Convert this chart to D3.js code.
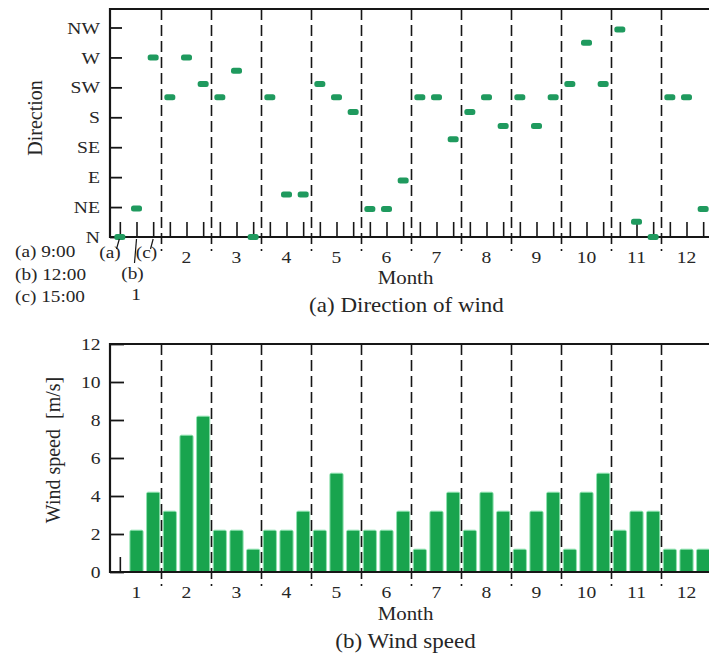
<!DOCTYPE html>
<html>
<head>
<meta charset="utf-8">
<script src="https://cdn.jsdelivr.net/npm/d3@7/dist/d3.min.js"></script>
<style>
body { margin: 0; background: #fff; }
text { font-family: "Liberation Serif", "Times New Roman", serif; fill: #262626; }
</style>
</head>
<body>
<svg id="chart" width="709" height="657"></svg>
<script>

var months = [1, 2, 3, 4, 5, 6, 7, 8, 9, 10, 11, 12];
var hourLabels = ["(a) 9:00", "(b) 12:00", "(c) 15:00"];
var directionNames = ["N", "NE", "E", "SE", "S", "SW", "W", "NW"];
var directionAngles = [0, 45, 90, 135, 180, 225, 270, 315];
var speedTicks = [0, 2, 4, 6, 8, 10, 12];

// three readings a month (9:00, 12:00, 15:00), direction in degrees
var windDirection = [
    0, 43, 270,
    210, 270, 230,
    210, 250, 0,
    210, 64, 64,
    230, 210, 188,
    42, 42, 85,
    210, 210, 147,
    188, 210, 167,
    210, 167, 210,
    230, 292, 230,
    312, 23, 0,
    210, 210, 42
];

// same slots, m/s
var windSpeed = [
    0, 2.2, 4.2,
    3.2, 7.2, 8.2,
    2.2, 2.2, 1.2,
    2.2, 2.2, 3.2,
    2.2, 5.2, 2.2,
    2.2, 2.2, 3.2,
    1.2, 3.2, 4.2,
    2.2, 4.2, 3.2,
    1.2, 3.2, 4.2,
    1.2, 4.2, 5.2,
    2.2, 3.2, 3.2,
    1.2, 1.2, 1.2
];

var svg = d3.select("#chart");
var ink = "#161616";
var markerColor = "#1f9a5e";
var barColor = "#18a44e";

var x = d3.scaleLinear().domain([0, 36]).range([111.5, 711.5]);
var left = 110, right = 712;

function slotCenter(i) { return x(i + 0.5); }

function addText(str, tx, ty, size, anchor, sx) {
    return svg.append("text")
        .attr("transform", "translate(" + tx + "," + ty + ") scale(" + (sx || 1) + ",1)")
        .attr("text-anchor", anchor || "middle")
        .style("font-size", size + "px")
        .text(str);
}

function hline(y, x1, x2, w) {
    svg.append("line").attr("x1", x1).attr("x2", x2).attr("y1", y).attr("y2", y)
        .attr("stroke", ink).attr("stroke-width", w);
}

function vline(xx, y1, y2, w) {
    svg.append("line").attr("x1", xx).attr("x2", xx).attr("y1", y1).attr("y2", y2)
        .attr("stroke", ink).attr("stroke-width", w);
}

function monthDividers(top, bottom) {
    svg.append("g").selectAll("line")
        .data(months.slice(0, 11))
        .enter().append("line")
        .attr("x1", function(m) { return x(m * 3); })
        .attr("x2", function(m) { return x(m * 3); })
        .attr("y1", top).attr("y2", bottom)
        .attr("stroke", ink).attr("stroke-width", 1.6)
        .attr("stroke-dasharray", "11,5");
}

function slotTicks(axisY) {
    var axis = d3.axisBottom(x)
        .tickValues(d3.range(36).map(function(i) { return i + 0.5; }))
        .tickSizeInner(-15).tickSizeOuter(0).tickFormat("");
    var g = svg.append("g").attr("transform", "translate(0," + axisY + ")").call(axis);
    g.select(".domain").remove();
    g.selectAll("line").attr("stroke", ink).attr("stroke-width", 1.6);
}

function styleLeftAxis(g) {
    g.select(".domain").remove();
    g.selectAll("line").attr("stroke", ink).attr("stroke-width", 1.8);
    g.selectAll("text").attr("fill", "#262626")
        .style("font-family", '"Liberation Serif", serif')
        .style("font-size", "17.5px");
}

// ---------- (a) direction of wind ----------
var topY = 9, baseY = 237;
var yDir = d3.scaleLinear().domain([0, 315]).range([baseY, 27.5]);

slotTicks(baseY);
monthDividers(topY, 251);

var dirAxis = d3.axisLeft(yDir)
    .tickValues(directionAngles)
    .tickFormat(function(d, i) { return directionNames[i]; })
    .tickSizeInner(-12).tickSizeOuter(0).tickPadding(10);
var dirG = svg.append("g").attr("transform", "translate(" + left + ",0)").call(dirAxis);
styleLeftAxis(dirG);
dirG.selectAll("text").attr("transform", "scale(1.12,1)").attr("x", -9);

hline(topY, left - 1, right, 2.2);
hline(baseY, left - 1, right, 2.2);
vline(left, topY - 1, baseY + 1, 2.2);

svg.append("g").selectAll("rect")
    .data(windDirection)
    .enter().append("rect")
    .attr("x", function(d, i) { return slotCenter(i) - 5.5; })
    .attr("y", function(d) { return yDir(d) - 3; })
    .attr("width", 11).attr("height", 6)
    .attr("rx", 2.5)
    .attr("fill", markerColor);

months.slice(1).forEach(function(m) {
    addText(m, x(m * 3 - 1.5), 263, 17.5, "middle", 1.12);
});

// legend and labels for month 1 slots
hourLabels.forEach(function(label, i) {
    addText(label, 15, 257 + i * 22.5, 17.5, "start", 1.1);
});
addText("(a)", 110, 258, 17.5, "middle", 1.1);
addText("(b)", 132.5, 279, 17.5, "middle", 1.1);
addText("(c)", 146.5, 258, 17.5, "middle", 1.1);
addText("1", 136, 300, 17.5, "middle", 1.1);
[[116.5, 249, slotCenter(0) - 0.5, 239], [134.5, 263, slotCenter(1), 239], [150.5, 249, slotCenter(2), 239]]
    .forEach(function(p) {
        svg.append("line").attr("x1", p[0]).attr("y1", p[1]).attr("x2", p[2]).attr("y2", p[3])
            .attr("stroke", ink).attr("stroke-width", 1.2);
    });

addText("Month", 405.5, 284, 19, "middle", 1.1);
addText("(a) Direction of wind", 406.5, 312, 20, "middle", 1.15);
svg.append("text")
    .attr("transform", "translate(42,118) rotate(-90)")
    .attr("text-anchor", "middle")
    .style("font-size", "20px")
    .text("Direction");

// ---------- (b) wind speed ----------
var top2 = 344, base2 = 572;
var ySpeed = d3.scaleLinear().domain([0, 12]).range([base2, top2]);

slotTicks(base2);

svg.append("g").selectAll("rect")
    .data(windSpeed)
    .enter().append("rect")
    .attr("x", function(d, i) { return slotCenter(i) - 6.6; })
    .attr("y", function(d) { return ySpeed(d); })
    .attr("width", 13.2)
    .attr("height", function(d) { return base2 - ySpeed(d); })
    .attr("rx", 1.5)
    .attr("fill", barColor)
    .attr("stroke", "#8fe3b0")
    .attr("stroke-width", function(d) { return d > 0 ? 1 : 0; });

monthDividers(top2, 586);

var speedAxis = d3.axisLeft(ySpeed)
    .tickValues(speedTicks)
    .tickSizeInner(-14).tickSizeOuter(0).tickPadding(10);
var speedG = svg.append("g").attr("transform", "translate(" + left + ",0)").call(speedAxis);
styleLeftAxis(speedG);
speedG.selectAll("text").attr("transform", "scale(1.12,1)").attr("x", -8.5);

hline(top2, left - 1, right, 2.2);
hline(base2, left - 1, right, 2.2);
vline(left, top2 - 1, base2 + 1, 2.2);

months.forEach(function(m) {
    addText(m, x(m * 3 - 1.5), 598, 17.5, "middle", 1.12);
});
addText("Month", 405.5, 620, 19, "middle", 1.1);
addText("(b) Wind speed", 405.5, 648, 20, "middle", 1.15);
svg.append("text")
    .attr("transform", "translate(60,450) rotate(-90)")
    .attr("text-anchor", "middle")
    .style("font-size", "20px")
    .attr("xml:space", "preserve")
    .text("Wind speed  [m/s]");
</script>
</body>
</html>
